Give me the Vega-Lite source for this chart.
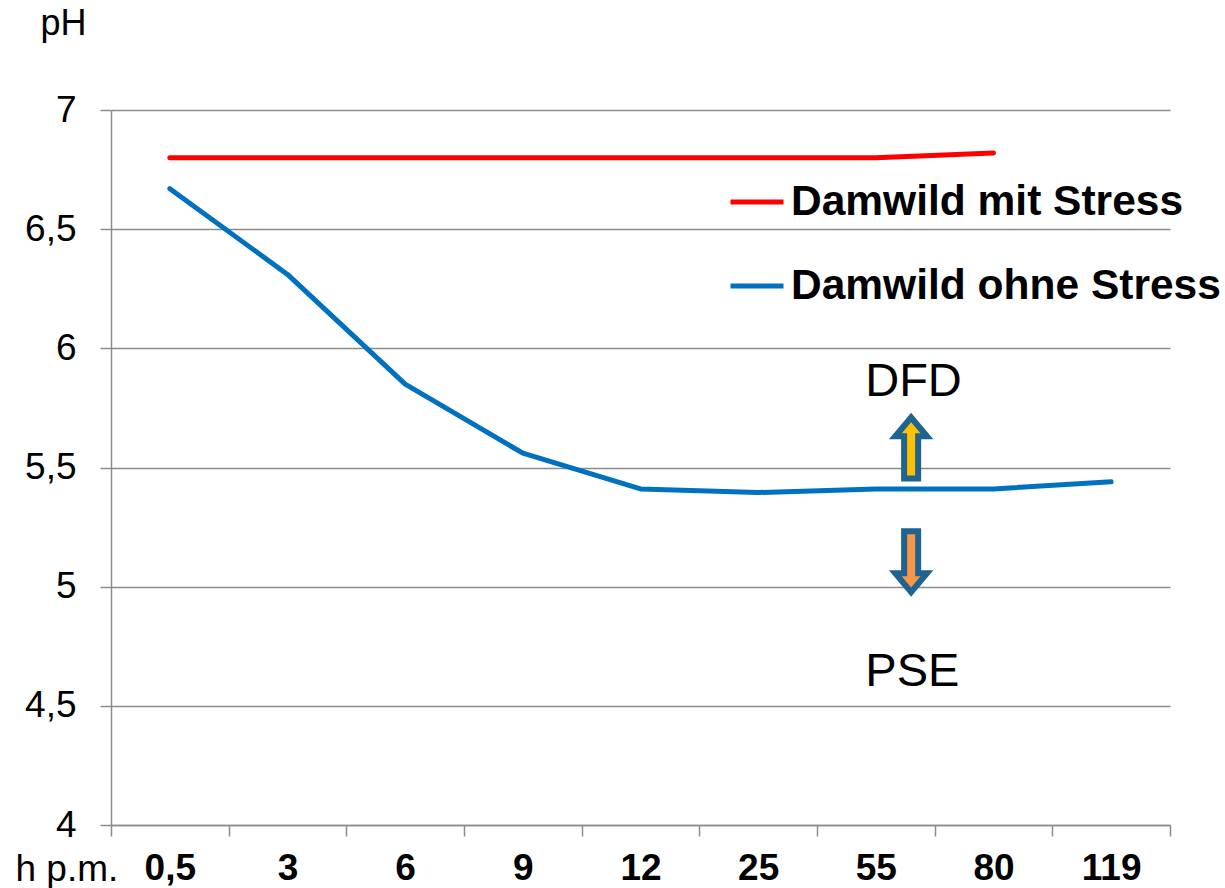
{
  "$schema": "https://vega.github.io/schema/vega-lite/v6.json",
  "width": 1059,
  "height": 715,
  "autosize": {"type": "none"},
  "padding": {"left": 111, "top": 110, "right": 55, "bottom": 63},
  "background": "white",
  "config": {
    "view": {"stroke": null},
    "font": "Liberation Sans"
  },
  "datasets": {
    "lines": [
      {"i": 0, "t": "0,5", "series": "Damwild mit Stress", "ph": 6.8},
      {"i": 1, "t": "3", "series": "Damwild mit Stress", "ph": 6.8},
      {"i": 2, "t": "6", "series": "Damwild mit Stress", "ph": 6.8},
      {"i": 3, "t": "9", "series": "Damwild mit Stress", "ph": 6.8},
      {"i": 4, "t": "12", "series": "Damwild mit Stress", "ph": 6.8},
      {"i": 5, "t": "25", "series": "Damwild mit Stress", "ph": 6.8},
      {"i": 6, "t": "55", "series": "Damwild mit Stress", "ph": 6.8},
      {"i": 7, "t": "80", "series": "Damwild mit Stress", "ph": 6.82},
      {"i": 0, "t": "0,5", "series": "Damwild ohne Stress", "ph": 6.67},
      {"i": 1, "t": "3", "series": "Damwild ohne Stress", "ph": 6.31},
      {"i": 2, "t": "6", "series": "Damwild ohne Stress", "ph": 5.85},
      {"i": 3, "t": "9", "series": "Damwild ohne Stress", "ph": 5.56},
      {"i": 4, "t": "12", "series": "Damwild ohne Stress", "ph": 5.41},
      {"i": 5, "t": "25", "series": "Damwild ohne Stress", "ph": 5.395},
      {"i": 6, "t": "55", "series": "Damwild ohne Stress", "ph": 5.41},
      {"i": 7, "t": "80", "series": "Damwild ohne Stress", "ph": 5.41},
      {"i": 8, "t": "119", "series": "Damwild ohne Stress", "ph": 5.44}
    ],
    "labels": [
      {"i": 6.32, "ph": 5.86, "label": "DFD"},
      {"i": 6.31, "ph": 4.64, "label": "PSE"}
    ],
    "up": [{"i": 6.3, "ph": 5.582}],
    "down": [{"i": 6.3, "ph": 5.105}]
  },
  "layer": [
    {
      "data": {"name": "lines"},
      "mark": {"type": "line", "strokeWidth": 5, "strokeCap": "round", "strokeJoin": "round"},
      "encoding": {
        "x": {
          "field": "i",
          "type": "quantitative",
          "scale": {"domain": [-0.5, 8.5], "nice": false, "zero": false},
          "axis": {
            "values": [-0.5, 0.5, 1.5, 2.5, 3.5, 4.5, 5.5, 6.5, 7.5, 8.5],
            "labelExpr": "['0,5','3','6','9','12','25','55','80','119',''][datum.value + 0.5]",
            "labelOffset": 58.8,
            "labelFlush": false,
            "labelOverlap": false,
            "labelBound": false,
            "labelFont": "Liberation Sans",
            "labelFontSize": 37,
            "labelFontWeight": "bold",
            "labelColor": "black",
            "labelPadding": 14,
            "grid": false,
            "tickSize": 11,
            "tickColor": "#8c8c8c",
            "tickWidth": 1.5,
            "domainColor": "#8c8c8c",
            "domainWidth": 1.5,
            "title": "h p.m.",
            "titleFont": "Liberation Sans",
            "titleFontSize": 37,
            "titleFontWeight": "normal",
            "titleColor": "black",
            "titleAlign": "left",
            "titleBaseline": "alphabetic",
            "titleAnchor": null,
            "titleX": -96,
            "titleY": 55
          }
        },
        "y": {
          "field": "ph",
          "type": "quantitative",
          "scale": {"domain": [4, 7], "nice": false, "zero": false},
          "axis": {
            "values": [4, 4.5, 5, 5.5, 6, 6.5, 7],
            "labelExpr": "replace(format(datum.value, '~g'), '.', ',')",
            "labelFont": "Liberation Sans",
            "labelFontSize": 37,
            "labelColor": "black",
            "labelPadding": 24,
            "tickSize": 11,
            "tickColor": "#8c8c8c",
            "tickWidth": 1.5,
            "domainColor": "#8c8c8c",
            "domainWidth": 1.5,
            "grid": true,
            "gridColor": "#8c8c8c",
            "gridWidth": 1.5,
            "title": "pH",
            "titleFont": "Liberation Sans",
            "titleFontSize": 36,
            "titleFontWeight": "normal",
            "titleColor": "black",
            "titleAngle": 0,
            "titleAlign": "left",
            "titleBaseline": "alphabetic",
            "titleAnchor": null,
            "titleX": -71,
            "titleY": -76
          }
        },
        "color": {
          "field": "series",
          "type": "nominal",
          "scale": {"domain": ["Damwild mit Stress", "Damwild ohne Stress"], "range": ["#FF0000", "#0070C0"]},
          "legend": {
            "title": null,
            "orient": "none",
            "legendX": 617,
            "legendY": 63,
            "padding": 0,
            "symbolType": "stroke",
            "symbolSize": 2809,
            "symbolStrokeWidth": 5,
            "labelFont": "Liberation Sans",
            "labelFontSize": 42.5,
            "labelFontWeight": "bold",
            "labelColor": "black",
            "labelLimit": 600,
            "labelOffset": 5,
            "rowPadding": 33
          }
        }
      }
    },
    {
      "data": {"name": "labels"},
      "mark": {"type": "text", "font": "Liberation Sans", "fontSize": 47, "color": "black", "align": "center", "baseline": "middle"},
      "encoding": {
        "x": {"field": "i", "type": "quantitative"},
        "y": {"field": "ph", "type": "quantitative"},
        "text": {"field": "label"}
      }
    },
    {
      "data": {"name": "up"},
      "mark": {
        "type": "point",
        "filled": true,
        "shape": "M0,-1L0.52,-0.38L0.23,-0.38L0.23,1L-0.23,1L-0.23,-0.38L-0.52,-0.38Z",
        "size": 3721,
        "fill": "#FFC000",
        "fillOpacity": 1,
        "stroke": "#1F6390",
        "strokeWidth": 6,
        "opacity": 1
      },
      "encoding": {
        "x": {"field": "i", "type": "quantitative"},
        "y": {"field": "ph", "type": "quantitative"}
      }
    },
    {
      "data": {"name": "down"},
      "mark": {
        "type": "point",
        "filled": true,
        "shape": "M0,1L0.52,0.38L0.23,0.38L0.23,-1L-0.23,-1L-0.23,0.38L-0.52,0.38Z",
        "size": 3721,
        "fill": "#F79646",
        "fillOpacity": 1,
        "stroke": "#1F6390",
        "strokeWidth": 6,
        "opacity": 1
      },
      "encoding": {
        "x": {"field": "i", "type": "quantitative"},
        "y": {"field": "ph", "type": "quantitative"}
      }
    }
  ]
}
